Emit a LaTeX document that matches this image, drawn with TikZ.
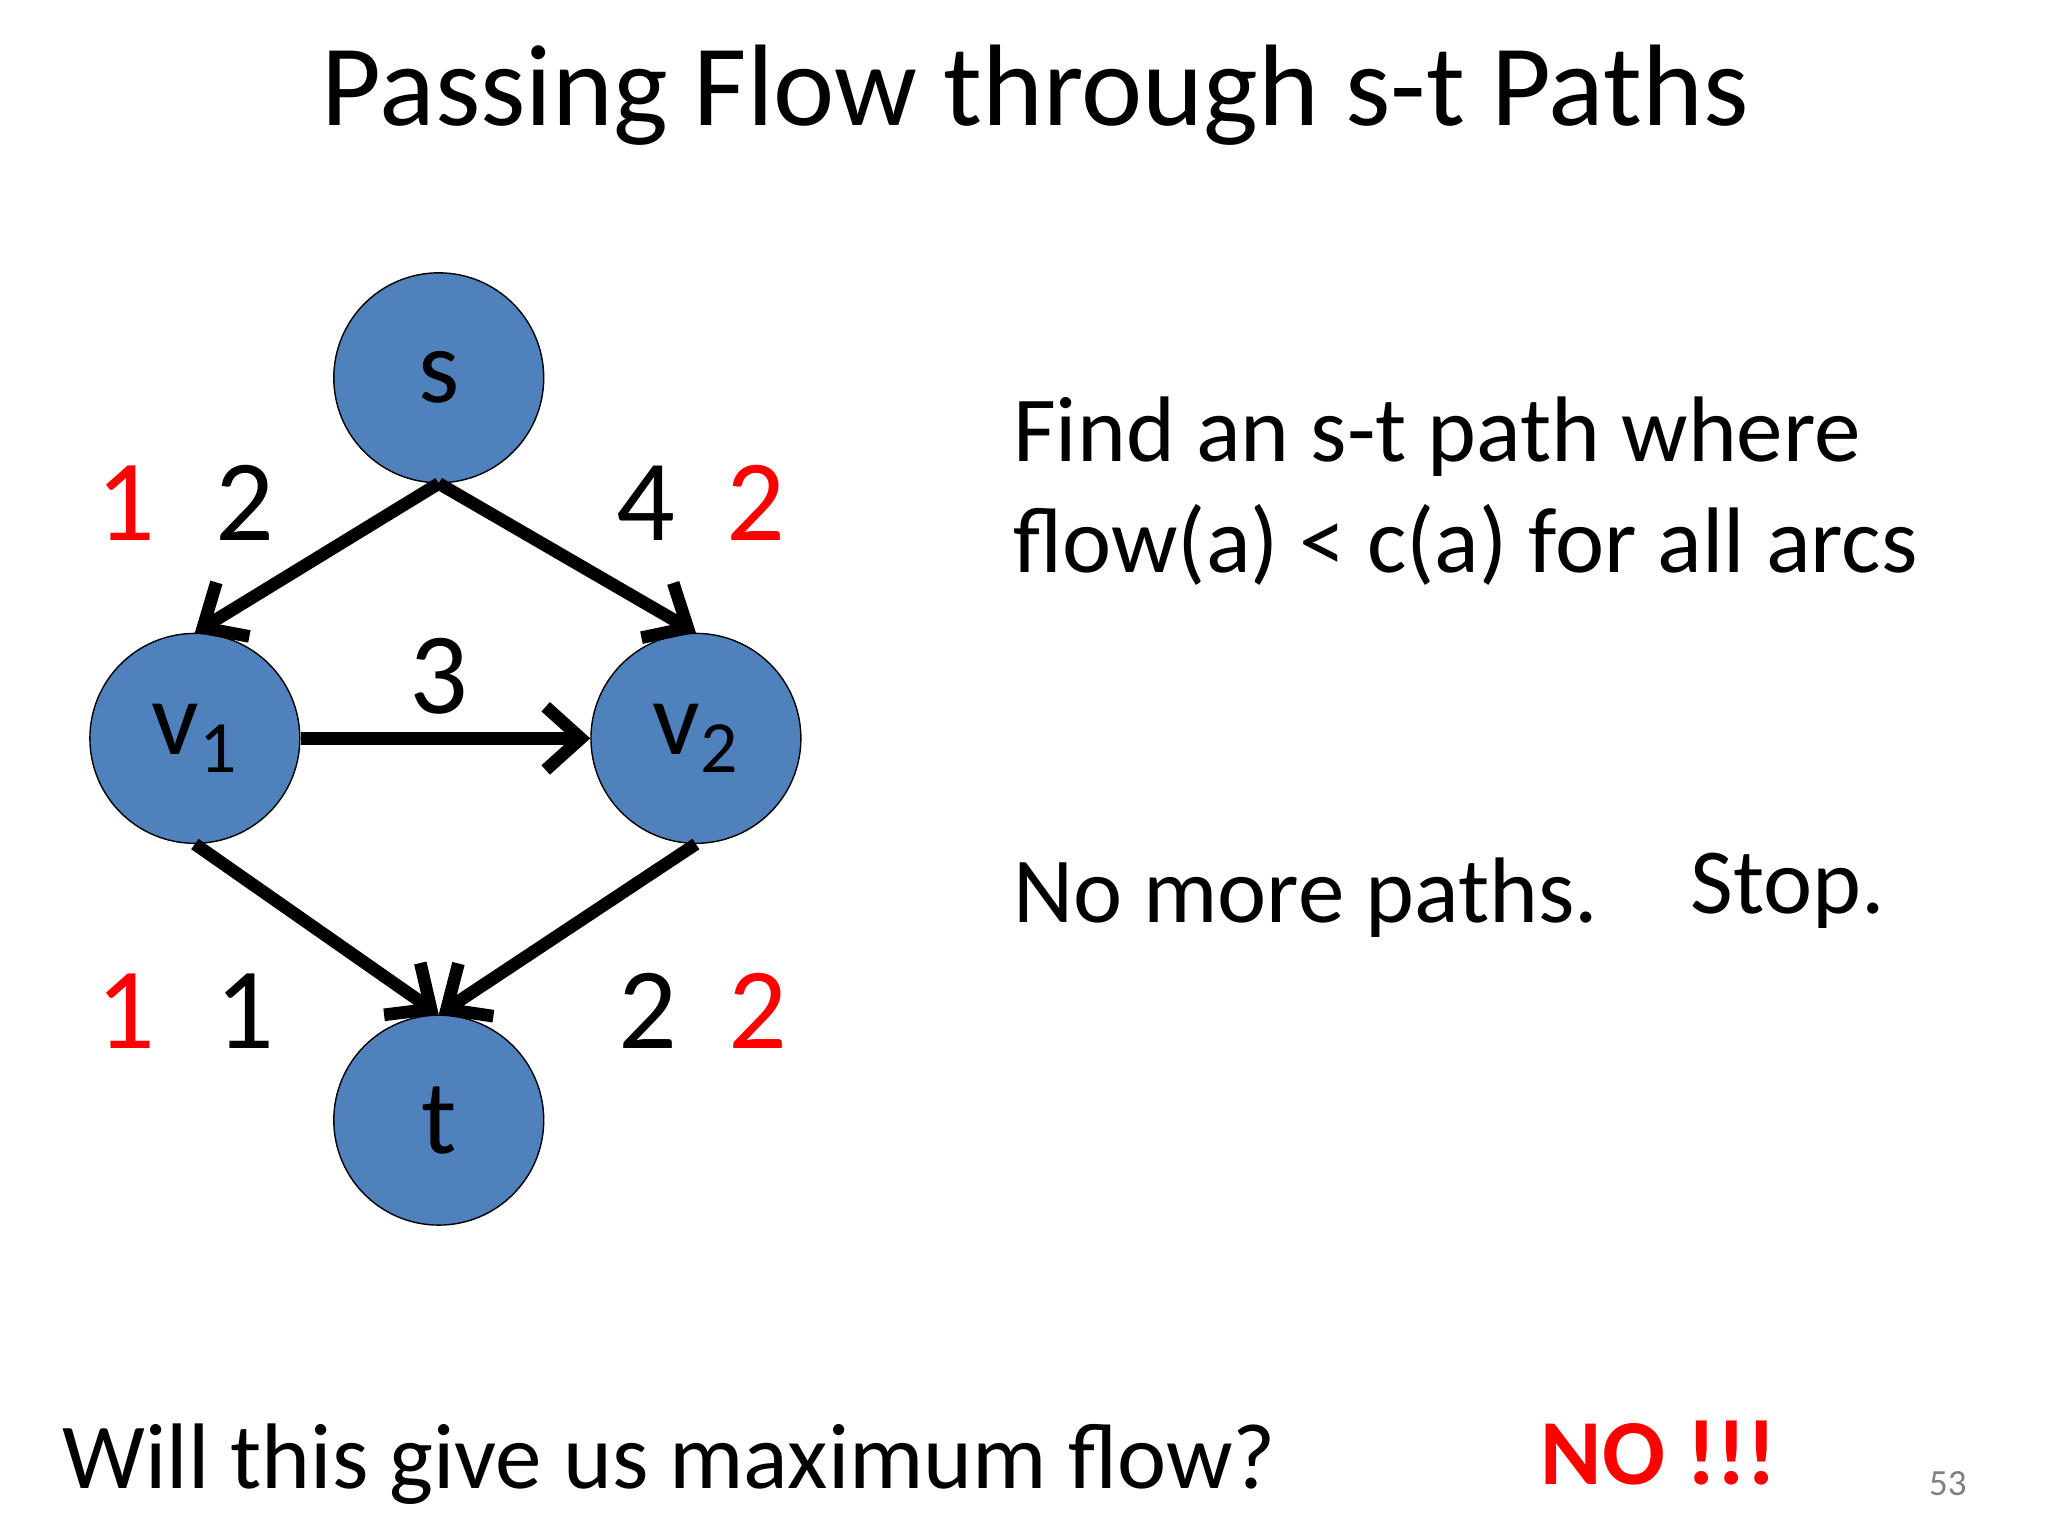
\documentclass[tikz,border=0pt]{standalone}
\usepackage{fontspec}
\setmainfont{Carlito}
\usetikzlibrary{arrows.meta}
\begin{document}
\begin{tikzpicture}[x=0.013256cm,y=-0.013256cm,
  nd/.style={circle,draw=black,fill={rgb,255:red,79;green,129;blue,189},minimum size=2.1cm,inner sep=0pt,font=\fontsize{30}{30}\selectfont},
  ar/.style={line width=3.6pt,-{Straight Barb[length=10pt,width=18pt,line width=3.6pt]}},
  num/.style={font=\fontsize{33}{33}\selectfont,anchor=base},
  txt/.style={font=\fontsize{26.5}{30}\selectfont,anchor=base west}]
\useasboundingbox (0,0) rectangle (1545,1159);
\node[font=\fontsize{33}{38}\selectfont,anchor=base] (title) at (781,95) {Passing Flow through s-t Paths};
\node[nd] (s) at (331,285) {s};
\node[nd] (v1) at (147,557) {v\textsubscript{1}};
\node[nd] (v2) at (525,557) {v\textsubscript{2}};
\node[nd] (t) at (331,845) {t};
\draw[ar] (s.south) -- (v1.north);
\draw[ar] (s.south) -- (v2.north);
\draw[ar] (v1.east) -- (v2.west);
\draw[ar] (v1.south) -- (t.north);
\draw[ar] (v2.south) -- (t.north);
\node[num,red] (a1) at (95,408) {1};
\node[num] (a2) at (185,408) {2};
\node[num] (b1) at (487,408) {4};
\node[num,red] (b2) at (570,408) {2};
\node[num] (c1) at (331,538) {3};
\node[num,red] (d1) at (95,791) {1};
\node[num] (d2) at (185,791) {1};
\node[num] (e1) at (489,791) {2};
\node[num,red] (e2) at (572,791) {2};
\node[txt] (f1) at (755,348) {Find an s-t path where};
\node[txt] (f2) at (755,432) {flow(a) < c(a) for all arcs};
\node[txt] (g1) at (755,696) {No more paths.};
\node[txt] (g2) at (1266,689) {Stop.};
\node[txt] (h1) at (38,1123) {Will this give us maximum flow?};
\node[txt,red,font=\fontsize{26.5}{30}\selectfont\bfseries] (h2) at (1153,1120) {NO !!!};
\node[anchor=base west,gray,font=\fontsize{10.5}{12}\selectfont] (pg) at (1446,1128) {53};
\end{tikzpicture}
\end{document}
